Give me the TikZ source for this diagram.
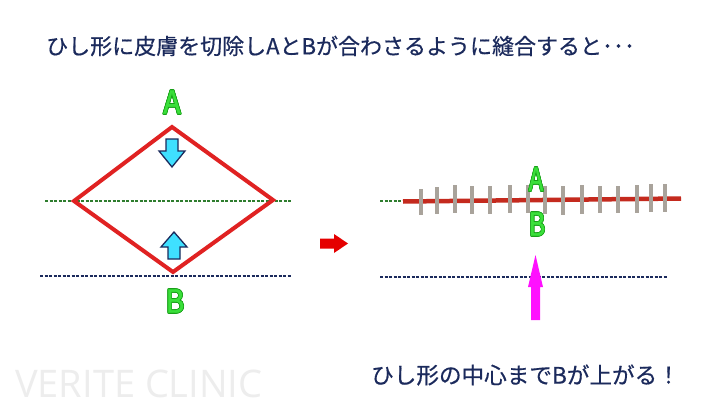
\documentclass[tikz,border=0pt]{standalone}
\usepackage{fontspec}
\newfontfamily\jp{Noto Sans CJK JP}[FakeBold=0.5]
\newfontfamily\jpl{Noto Sans CJK JP}[FakeBold=1.2]
\newfontfamily\wm{Open Sans}
\definecolor{navy}{HTML}{1B2A5C}
\definecolor{dred}{HTML}{E02222}
\definecolor{sred}{HTML}{C42A1E}
\definecolor{lgreen}{HTML}{3ADF3A}
\definecolor{ogreen}{HTML}{16A016}
\definecolor{dgreen}{HTML}{2E7D2E}
\definecolor{cyanf}{HTML}{3FE0FF}
\definecolor{stitch}{HTML}{A9A39B}
\definecolor{magent}{HTML}{FF10FF}
\newcommand\oshift[3]{\rlap{\kern#1\raisebox{#2}{\color{ogreen}#3}}}
\newcommand\outl[1]{\leavevmode
  \oshift{0.8pt}{0pt}{#1}\oshift{-0.8pt}{0pt}{#1}%
  \oshift{0pt}{0.8pt}{#1}\oshift{0pt}{-0.8pt}{#1}%
  \oshift{0.6pt}{0.6pt}{#1}\oshift{-0.6pt}{0.6pt}{#1}%
  \oshift{0.6pt}{-0.6pt}{#1}\oshift{-0.6pt}{-0.6pt}{#1}%
  #1}
\tikzset{
  title/.style={font=\jp\fontsize{22}{24}\selectfont, text=navy, inner sep=0pt, anchor=west},
  letter/.style={font=\jpl\fontsize{32}{34}\selectfont, text=lgreen, inner sep=0pt},
  skin/.style={dgreen, dashed, dash pattern=on 3pt off 1.5pt, line width=1.4pt},
  base/.style={navy, dashed, dash pattern=on 3pt off 1.5pt, line width=1.6pt},
  cut/.style={dred, line width=4pt, line join=miter},
  blockarrow/.style={draw=navy, fill=cyanf, line width=1.3pt, line join=miter},
  suture/.style={stitch, line width=4.5pt}
}
\begin{document}
\begin{tikzpicture}[x=1pt,y=-1pt]
\useasboundingbox (0,0) rectangle (722,412);
\fill[white] (0,0) rectangle (722,412);
% watermark
\node[font=\wm\fontsize{38}{40}\selectfont, text=black!7, inner sep=0pt, anchor=west] (wm) at (15,384) {VERITE CLINIC};
% title
\node[title] (title) at (46,46) {ひし形に皮膚を切除しAとBが合わさるように縫合すると･･･};
% left panel
\draw[skin] (45,201) -- (292,201);
\draw[base] (40,276) -- (291,276);
\coordinate (top) at (172,127);
\coordinate (lft) at (74,201);
\coordinate (rgt) at (273,200);
\coordinate (bot) at (173,272);
\draw[cut] (top) -- (rgt) -- (bot) -- (lft) -- cycle;
\node[letter, xscale=0.9] (A1) at (172,102) {\outl{A}};
\node[letter, xscale=0.9] (B1) at (175,301) {\outl{B}};
% cyan arrows
\draw[blockarrow] (166,139) -- (178,139) -- (178,151) -- (185,151) -- (172,167) -- (159,151) -- (166,151) -- cycle;
\draw[blockarrow] (168,259) -- (180,259) -- (180,247) -- (187,247) -- (174,232) -- (161,247) -- (168,247) -- cycle;
% red arrow between panels
\fill[red!90!black] (320,238.5) -- (334,238.5) -- (334,234) -- (348,243.5) -- (334,253) -- (334,248.5) -- (320,248.5) -- cycle;
% right panel
\draw[skin] (380,201) -- (404,201);
\draw[base] (380,277) -- (668,277);
\draw[sred, line width=4.5pt] (403,201.5) -- (681,198.5);
\foreach \x/\t/\b in {421/189/215,437/187/214,455/185/213,472/186/214,490/186/214,510/185/213,528/185/213,545/186/214,563/186/215,582/185/214,600/186/213,618/186/213,637/185/213,651/184/212,665/184/212}
  \draw[suture] (\x,\t) -- (\x,\b);
\node[letter, xscale=0.75] (A2) at (536,179) {\outl{A}};
\node[letter, xscale=0.8] (B2) at (537,224) {\outl{B}};
% magenta arrow
\fill[magent] (531,320) -- (540,320) -- (540,287) -- (543,287) -- (535.5,255) -- (528,287) -- (531,287) -- cycle;
% bottom text
\node[title, font=\jp\fontsize{22.6}{24}\selectfont] (note) at (371,375) {ひし形の中心までBが上がる！};
\end{tikzpicture}
\end{document}
